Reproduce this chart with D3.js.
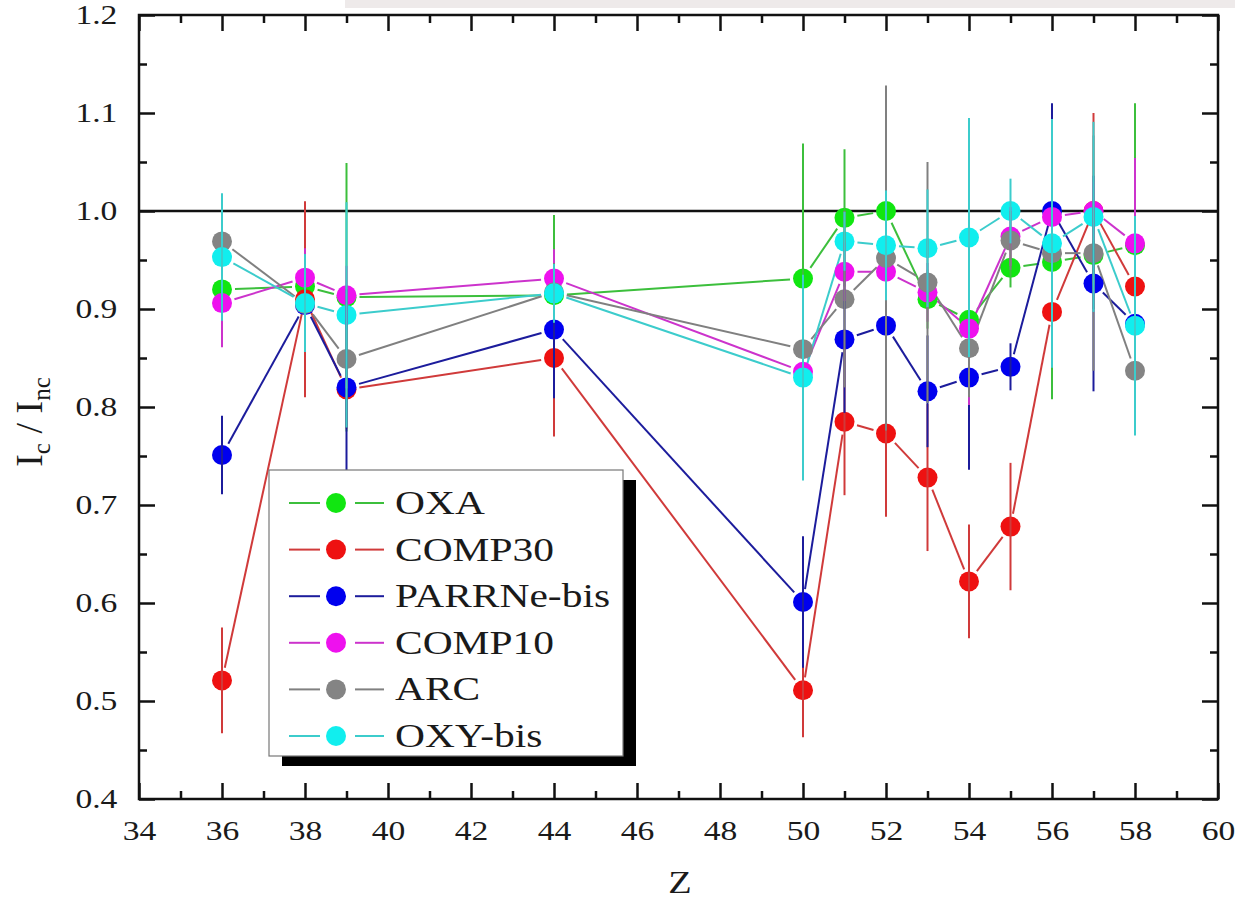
<!DOCTYPE html>
<html>
<head>
<meta charset="utf-8">
<script src="https://cdn.jsdelivr.net/npm/d3@7"></script>
<style>
  body { margin: 0; background: #fff; }
  text { font-family: "Liberation Serif", "Times New Roman", serif; fill: #1a1a1a; }
</style>
</head>
<body>
<div id="viz"></div>
<script>
// Z values of the measured points
const zValues = [36, 38, 39, 44, 50, 51, 52, 53, 54, 55, 56, 57, 58];

const seriesNames = ['OXA', 'COMP30', 'PARRNe-bis', 'COMP10', 'ARC', 'OXY-bis'];

// Ic/Inc per target and its error
const oxa      = [0.920, 0.923, 0.912, 0.914, 0.931, 0.993, 1.000, 0.910, 0.889, 0.942, 0.948, 0.955, 0.965];
const oxaErr   = [0.030, 0.030, 0.137, 0.082, 0.138, 0.070, 0.020, 0.030, 0.135, 0.020, 0.140, 0.030, 0.145];
const comp30   = [0.521, 0.910, 0.818, 0.850, 0.511, 0.785, 0.773, 0.728, 0.622, 0.678, 0.897, 1.000, 0.923];
const comp30Err= [0.054, 0.100, 0.040, 0.080, 0.048, 0.075, 0.085, 0.075, 0.058, 0.065, 0.030, 0.100, 0.030];
const parrne   = [0.751, 0.904, 0.820, 0.879, 0.601, 0.869, 0.883, 0.816, 0.830, 0.841, 1.000, 0.926, 0.885];
const parrneErr= [0.040, 0.030, 0.100, 0.070, 0.067, 0.075, 0.040, 0.057, 0.094, 0.024, 0.110, 0.110, 0.030];
const comp10   = [0.906, 0.932, 0.914, 0.931, 0.836, 0.938, 0.938, 0.917, 0.880, 0.974, 0.994, 1.000, 0.967];
const comp10Err= [0.045, 0.030, 0.030, 0.030, 0.030, 0.030, 0.030, 0.030, 0.078, 0.030, 0.030, 0.030, 0.087];
const arc      = [0.969, 0.905, 0.849, 0.917, 0.859, 0.910, 0.952, 0.927, 0.860, 0.970, 0.957, 0.957, 0.837];
const arcErr   = [0.030, 0.030, 0.030, 0.030, 0.030, 0.090, 0.176, 0.123, 0.050, 0.030, 0.030, 0.120, 0.030];
const oxy      = [0.953, 0.906, 0.894, 0.916, 0.830, 0.969, 0.965, 0.962, 0.973, 1.000, 0.967, 0.994, 0.883];
const oxyErr   = [0.065, 0.050, 0.115, 0.030, 0.105, 0.030, 0.056, 0.060, 0.122, 0.033, 0.127, 0.097, 0.112];

const xTicks = d3.range(34, 61, 2);
const yTicks = [0.4, 0.5, 0.6, 0.7, 0.8, 0.9, 1.0, 1.1, 1.2];

var markerColors = ['#11e611', '#ee1111', '#0000ee', '#ee11ee', '#848484', '#11eeee'],
    lineColors   = ['#3cbf3c', '#d03a3a', '#1c1c9c', '#cc33cc', '#808080', '#3ccccc'],
    values = [oxa, comp30, parrne, comp10, arc, oxy],
    errors = [oxaErr, comp30Err, parrneErr, comp10Err, arcErr, oxyErr];

var svgW = 1235, svgH = 901,
    plotL = 139, plotR = 1218, plotT = 15, plotB = 799,
    stretch = 1.2,
    r = 10, gap = 13;

var series = seriesNames.map(function(name, k) {
  return {
    name: name,
    marker: markerColors[k],
    line: lineColors[k],
    points: zValues.map(function(z, i) { return { z: z, v: values[k][i], e: errors[k][i] }; })
  };
});

var x = d3.scaleLinear().domain([34, 60]).range([plotL, plotR]);
var y = d3.scaleLinear().domain([0.4, 1.2]).range([plotB, plotT]);

var svg = d3.select('#viz').append('svg')
  .attr('width', svgW)
  .attr('height', svgH);

svg.append('rect').attr('width', svgW).attr('height', svgH).attr('fill', '#fff');
// scan artefact band along the top edge
svg.append('rect').attr('x', 345).attr('y', 0).attr('width', svgW - 345).attr('height', 8).attr('fill', '#eeeaea');

// axes: major + minor ticks pointing inward on all four sides
function styleAxis(g) {
  g.select('.domain').remove();
  g.selectAll('line').attr('stroke', '#111').attr('stroke-width', 2.5);
}

svg.append('g').attr('transform', 'translate(0,' + plotB + ')')
  .call(d3.axisBottom(x).tickValues(xTicks).tickSizeInner(-16).tickSizeOuter(0).tickPadding(21).tickFormat(d3.format('d')))
  .call(styleAxis)
  .selectAll('text').attr('font-size', 28).attr('fill', '#1a1a1a')
  .attr('transform', 'scale(' + stretch + ',1)')
  .attr('font-family', '"Liberation Serif", serif');
svg.append('g').attr('transform', 'translate(0,' + plotB + ')')
  .call(d3.axisBottom(x).tickValues(d3.range(35, 60, 2)).tickSizeInner(-8).tickSizeOuter(0).tickFormat(''))
  .call(styleAxis);
svg.append('g').attr('transform', 'translate(0,' + plotT + ')')
  .call(d3.axisTop(x).tickValues(xTicks).tickSizeInner(-16).tickSizeOuter(0).tickFormat(''))
  .call(styleAxis);
svg.append('g').attr('transform', 'translate(0,' + plotT + ')')
  .call(d3.axisTop(x).tickValues(d3.range(35, 60, 2)).tickSizeInner(-8).tickSizeOuter(0).tickFormat(''))
  .call(styleAxis);

svg.append('g').attr('transform', 'translate(' + plotL + ',0)')
  .call(d3.axisLeft(y).tickValues(yTicks).tickSizeInner(-16).tickSizeOuter(0).tickPadding(18).tickFormat(d3.format('.1f')))
  .call(styleAxis)
  .selectAll('text').attr('font-size', 28).attr('fill', '#1a1a1a')
  .attr('transform', 'scale(' + stretch + ',1)')
  .attr('font-family', '"Liberation Serif", serif');
svg.append('g').attr('transform', 'translate(' + plotL + ',0)')
  .call(d3.axisLeft(y).tickValues(d3.range(0.45, 1.2, 0.1)).tickSizeInner(-8).tickSizeOuter(0).tickFormat(''))
  .call(styleAxis);
svg.append('g').attr('transform', 'translate(' + plotR + ',0)')
  .call(d3.axisRight(y).tickValues(yTicks).tickSizeInner(-16).tickSizeOuter(0).tickFormat(''))
  .call(styleAxis);
svg.append('g').attr('transform', 'translate(' + plotR + ',0)')
  .call(d3.axisRight(y).tickValues(d3.range(0.45, 1.2, 0.1)).tickSizeInner(-8).tickSizeOuter(0).tickFormat(''))
  .call(styleAxis);

// reference line at 1.0
svg.append('line')
  .attr('x1', plotL).attr('x2', plotR)
  .attr('y1', y(1.0)).attr('y2', y(1.0))
  .attr('stroke', '#111').attr('stroke-width', 2.5);

// connecting lines, broken around each symbol
var lines = svg.append('g');
series.forEach(function(s) {
  for (var i = 1; i < s.points.length; i++) {
    var x0 = x(s.points[i - 1].z), y0 = y(s.points[i - 1].v),
        x1 = x(s.points[i].z), y1 = y(s.points[i].v),
        len = Math.hypot(x1 - x0, y1 - y0);
    if (len <= 2 * gap) continue;
    var ux = (x1 - x0) / len, uy = (y1 - y0) / len;
    lines.append('line')
      .attr('x1', x0 + ux * gap).attr('y1', y0 + uy * gap)
      .attr('x2', x1 - ux * gap).attr('y2', y1 - uy * gap)
      .attr('stroke', s.line).attr('stroke-width', 2);
  }
});

// symbols
series.forEach(function(s) {
  svg.append('g').selectAll('circle').data(s.points)
    .enter().append('circle')
      .attr('cx', function(d) { return x(d.z); })
      .attr('cy', function(d) { return y(d.v); })
      .attr('r', r)
      .attr('fill', s.marker);
});

// error bars on top of everything
series.forEach(function(s) {
  svg.append('g').selectAll('line').data(s.points)
    .enter().append('line')
      .attr('x1', function(d) { return x(d.z); })
      .attr('x2', function(d) { return x(d.z); })
      .attr('y1', function(d) { return y(d.v + d.e); })
      .attr('y2', function(d) { return y(d.v - d.e); })
      .attr('stroke', s.line).attr('stroke-width', 2);
});

// frame
svg.append('rect')
  .attr('x', plotL).attr('y', plotT)
  .attr('width', plotR - plotL).attr('height', plotB - plotT)
  .attr('fill', 'none').attr('stroke', '#111').attr('stroke-width', 2.5);

// legend with drop shadow
var lg = svg.append('g').attr('transform', 'translate(269,470)');
lg.append('rect').attr('x', 13).attr('y', 10).attr('width', 354).attr('height', 286).attr('fill', '#000');
lg.append('rect').attr('width', 354).attr('height', 286).attr('fill', '#fff').attr('stroke', '#777').attr('stroke-width', 1.2);

var rows = lg.selectAll('g.row').data(series)
  .enter().append('g')
    .attr('transform', function(d, i) { return 'translate(0,' + (33 + i * 46.6) + ')'; });
rows.append('line').attr('x1', 20).attr('x2', 51).attr('stroke', function(d) { return d.line; }).attr('stroke-width', 2);
rows.append('line').attr('x1', 86).attr('x2', 115).attr('stroke', function(d) { return d.line; }).attr('stroke-width', 2);
rows.append('circle').attr('cx', 67).attr('r', r).attr('fill', function(d) { return d.marker; });
rows.append('text')
  .attr('transform', 'translate(126,11) scale(1.22,1)')
  .attr('font-size', 34)
  .text(function(d) { return d.name; });

// axis titles
svg.append('text')
  .attr('transform', 'translate(680,893) scale(1.2,1)')
  .attr('text-anchor', 'middle')
  .attr('font-size', 32)
  .text('Z');

var yt = svg.append('text')
  .attr('transform', 'translate(42,422) rotate(-90)')
  .attr('text-anchor', 'middle')
  .attr('font-size', 38);
yt.append('tspan').text('I');
yt.append('tspan').attr('font-size', 25).attr('dy', 8).text('c');
yt.append('tspan').attr('dy', -8).text(' / I');
yt.append('tspan').attr('font-size', 25).attr('dy', 8).text('nc');
</script>
</body>
</html>
